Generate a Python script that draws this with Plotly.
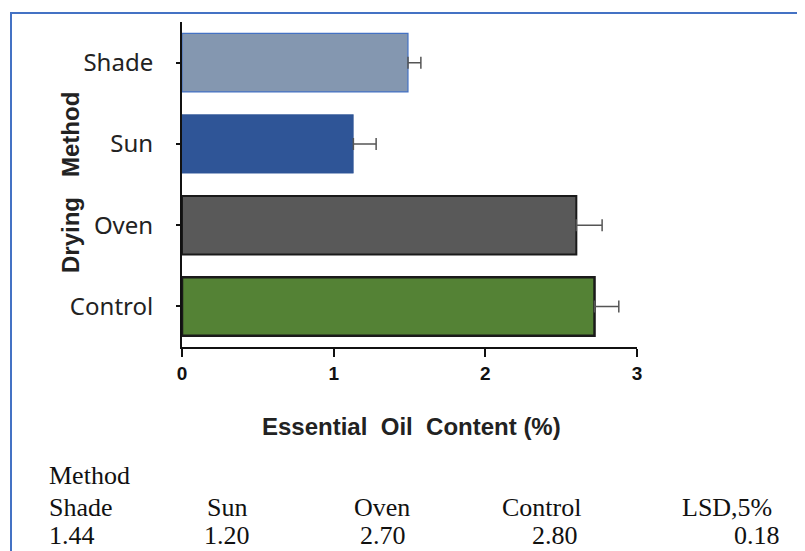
import plotly.graph_objects as go

methods = ["Control", "Oven", "Sun", "Shade"]
oil_content = [2.72, 2.60, 1.13, 1.49]
oil_error = [0.16, 0.17, 0.15, 0.085]
no_error = [0, 0, 0, 0]
bar_colors = ["#548235", "#595959", "#2F5597", "#8497B0"]
line_colors = ["#1a1a1a", "#1a1a1a", "#2F5597", "#4472C4"]
line_widths = [2.5, 2, 0.5, 1.2]

table_header = ["Shade", "Sun", "Oven", "Control", "LSD,5%"]
table_values = ["1.44", "1.20", "2.70", "2.80", "0.18"]

OFF = 8  # page body margin
W, H = 805 - OFF, 551 - OFF
L, R, T, B = 182 - OFF, 637 - OFF, 22 - OFF, 347 - OFF

fig = go.Figure()
fig.add_trace(go.Bar(
    y=methods, x=oil_content, orientation="h",
    marker=dict(color=bar_colors, line=dict(color=line_colors, width=line_widths)),
    width=0.72,
    error_x=dict(type="data", symmetric=False, array=oil_error, arrayminus=no_error,
                 color="#555555", thickness=1.5, width=6),
    showlegend=False,
))

def px(x):
    return (x - OFF - L) / (R - L)

def py(y):
    return (B - (y - OFF)) / (B - T)

serif = dict(family="Liberation Serif", size=26, color="#111")
annotations = [
    dict(text="<b>Essential  Oil  Content (%)</b>", x=px(411), y=py(426), xref="paper", yref="paper",
         showarrow=False, font=dict(family="Liberation Sans", size=24, color="#222"),
         xanchor="center", yanchor="middle"),
    dict(text="<b>Drying   Method</b>", x=px(70), y=py(183), xref="paper", yref="paper", textangle=-90,
         showarrow=False, font=dict(family="Liberation Sans", size=24, color="#222"),
         xanchor="center", yanchor="middle"),
    dict(text="Method", x=px(47), y=py(475), xref="paper", yref="paper", showarrow=False,
         font=serif, xanchor="left", yanchor="middle"),
]
header_x = [(47, "left"), (205, "left"), (352, "left"), (500, "left"), (680, "left")]
value_x = [(47, "left"), (252, "right"), (408, "right"), (580, "right"), (782, "right")]
for (xx, anc), t in zip(header_x, table_header):
    annotations.append(dict(text=t, x=px(xx), y=py(507), xref="paper", yref="paper", showarrow=False,
                            font=serif, xanchor=anc, yanchor="middle"))
for (xx, anc), t in zip(value_x, table_values):
    annotations.append(dict(text=t, x=px(xx), y=py(535), xref="paper", yref="paper", showarrow=False,
                            font=serif, xanchor=anc, yanchor="middle"))

fig.update_layout(
    width=W, height=H,
    margin=dict(l=L, r=W - R, t=T, b=H - B, pad=0),
    paper_bgcolor="white", plot_bgcolor="white",
    xaxis=dict(range=[0, 3], tickvals=[0, 1, 2, 3], ticktext=["0", "1", "2", "3"], showgrid=False,
               zeroline=False, showline=True, linecolor="#111", linewidth=2, ticks="outside",
               ticklen=8, tickwidth=2, tickcolor="#111",
               tickfont=dict(family="Liberation Sans", size=19, color="#111", weight="bold")),
    yaxis=dict(range=[-0.5, 3.5], showgrid=False, zeroline=False, showline=True, linecolor="#111",
               linewidth=2, ticks="outside", ticklen=4, tickwidth=2, tickcolor="#111",
               ticklabelstandoff=18,
               tickfont=dict(family="Noto Sans", size=24, color="#222")),
    annotations=annotations,
    shapes=[dict(type="rect", xref="paper", yref="paper", x0=px(11), x1=px(840), y0=py(13), y1=py(620),
                 line=dict(color="#4472C4", width=2), layer="below")],
)
fig.write_html("out.html")
